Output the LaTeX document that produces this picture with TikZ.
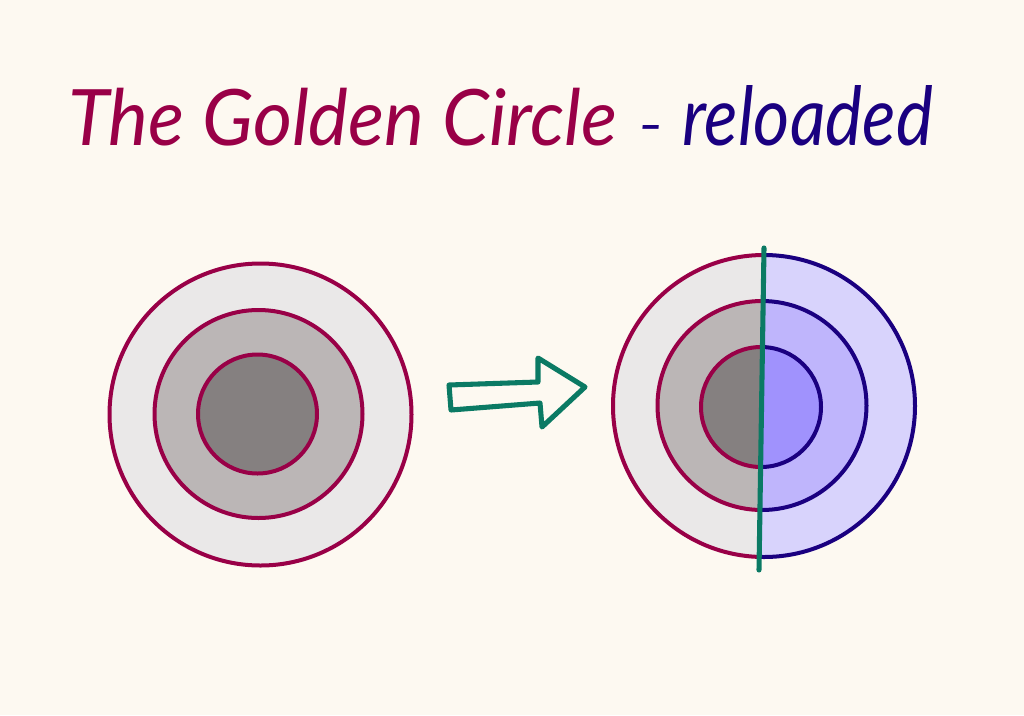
\documentclass[tikz,border=0pt]{standalone}
\usepackage{fontspec}
\setmainfont{Lato}
\definecolor{bgc}{HTML}{FDF9F1}
\definecolor{crim}{HTML}{990047}
\definecolor{navy}{HTML}{1A0080}
\definecolor{teal}{HTML}{0B7A64}
\definecolor{gA}{HTML}{EAE8E8}
\definecolor{gB}{HTML}{BBB6B6}
\definecolor{gC}{HTML}{858080}
\definecolor{pA}{HTML}{D8D3FC}
\definecolor{pB}{HTML}{BFB5FC}
\definecolor{pC}{HTML}{A092FD}
\tikzset{
  ringL/.style={draw=crim, line width=3pt},
  ringR/.style={draw=navy, line width=3pt},
  titlefont/.style={font=\fontsize{50}{60}\selectfont\itshape, inner sep=0pt, anchor=base west},
}
\begin{document}
\begin{tikzpicture}[x=0.75pt,y=-0.75pt]
\fill[bgc] (0,0) rectangle (1024,715);
\useasboundingbox (0,0) rectangle (1024,715);
% title
\node[titlefont, text=crim] (t1) at (68,145) {\resizebox{412pt}{43pt}{The Golden Circle}};
\node[titlefont, text=navy] (t2) at (638,145) {\resizebox{19pt}{15pt}{–}};
\node[titlefont, text=navy] (t3) at (682,145) {\resizebox{188pt}{45pt}{reloaded}};
% left circle
\fill[gA] (260.5,414.5) circle (151);
\fill[gB] (258.5,414) circle (104);
\fill[gC] (257.5,414) circle (59.5);
\draw[ringL] (260.5,414.5) circle (151);
\draw[ringL] (258.5,414) circle (104);
\draw[ringL] (257.5,414) circle (59.5);
% arrow
\draw[teal, line width=3.8pt, line join=round, fill=bgc]
  (449,385) -- (538,382) -- (538,358) -- (585,387) -- (542,427) -- (540,403) -- (451,410) -- cycle;
% right circle
\begin{scope}
  \clip (500,200) -- (764.7,200) -- (758.2,620) -- (500,620) -- cycle;
  \fill[gA] (764,406) circle (151);
  \fill[gB] (762,405.5) circle (104.5);
  \fill[gC] (761,407) circle (60);
  \draw[ringL] (764,406) circle (151);
  \draw[ringL] (762,405.5) circle (104.5);
  \draw[ringL] (761,407) circle (60);
\end{scope}
\begin{scope}
  \clip (764.7,200) -- (1000,200) -- (1000,620) -- (758.2,620) -- cycle;
  \fill[pA] (764,406) circle (151);
  \fill[pB] (762,405.5) circle (104.5);
  \fill[pC] (761,407) circle (60);
  \draw[ringR] (764,406) circle (151);
  \draw[ringR] (762,405.5) circle (104.5);
  \draw[ringR] (761,407) circle (60);
\end{scope}
\coordinate (lt) at (764,248);
\coordinate (lb) at (759,570);
\draw[teal, line width=3.8pt, line cap=round] (lt) -- (lb);
\end{tikzpicture}
\end{document}
